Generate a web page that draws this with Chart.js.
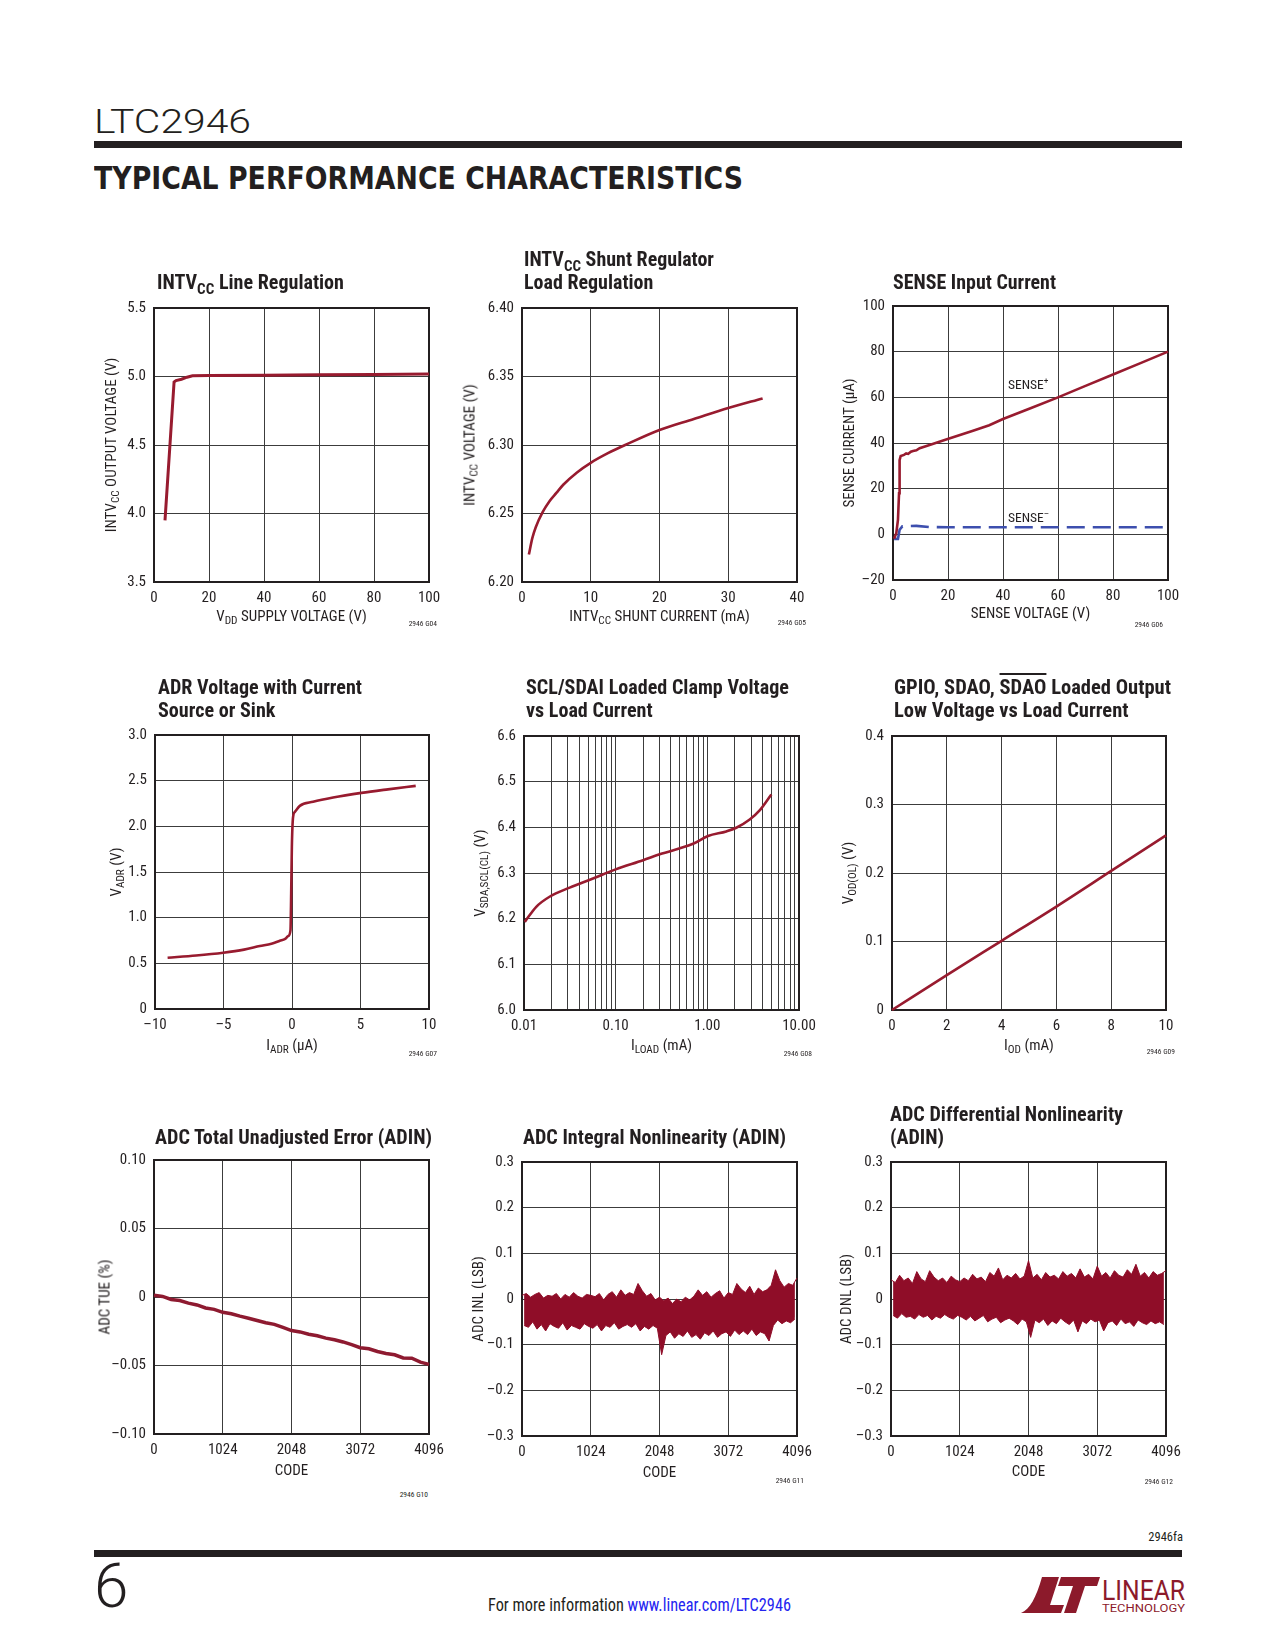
<!DOCTYPE html>
<html>
<head>
<meta charset="utf-8">
<script src="https://cdn.jsdelivr.net/npm/chart.js@4.4.1/dist/chart.umd.min.js"></script>
<style>
  html, body { margin: 0; padding: 0; background: #fff; }
  body { position: relative; width: 1275px; height: 1650px; overflow: hidden;
         font-family: 'Liberation Sans Narrow', 'Arial Narrow', 'Roboto Condensed', Roboto, sans-serif; color: #231f20; }
  canvas { position: absolute; }
  .t { position: absolute; white-space: nowrap; transform-origin: 0 0; }
  .ttl { font-weight: bold; font-size: 20px; line-height: 23px; }
  .ax { font-size: 15px; line-height: 15px; }
  .id { font-size: 7.5px; line-height: 7.5px; }
  .lbl { font-size: 13.5px; line-height: 13.5px; }
  sub { font-size: 0.75em; vertical-align: -0.3em; line-height: 0; }
  sup { font-size: 0.7em; vertical-align: 0.5em; line-height: 0; }
  .rule { position: absolute; background: #231f20; }
  .ovl { text-decoration: overline; }
</style>
</head>
<body>

<div class="t" id="part" style="left:94px;top:103.5px;font:300 34px/34px Roboto,sans-serif;">LTC2946</div>
<div class="rule" style="left:94px;top:141px;width:1088px;height:7px;"></div>
<div class="t" id="head" style="left:94px;top:163px;font:bold 31.5px/31.5px 'DejaVu Sans',sans-serif;">TYPICAL PERFORMANCE CHARACTERISTICS</div>

<div class="t" id="fa" style="left:1183px;top:1531px;font-size:12.5px;line-height:12.5px;transform:translateX(-100%);">2946fa</div>
<div class="rule" style="left:94px;top:1550px;width:1088px;height:7px;"></div>
<div class="t" style="left:94px;top:1555px;font:300 62px/62px Roboto,sans-serif;">6</div>
<div class="t" id="foot" style="left:488px;top:1597px;font-size:17.5px;line-height:17.5px;">For more information <span style="color:#2424f0">www.linear.com/LTC2946</span></div>

<svg style="position:absolute;left:1020px;top:1576px" width="166" height="38" viewBox="0 0 166 38">
  <path d="M22 1 H39 L30 29 H44 L41 37 H1 C10 33 16 22 22 1 Z" fill="#8c1a2b"/>
  <path d="M41 1 H80 L77 10 H65 L56 37 H44 L53 10 H38 Z" fill="#8c1a2b"/>
  <text x="82" y="24" font-family="'Liberation Sans Narrow', Roboto, sans-serif" font-size="28" fill="#8c1a2b" textLength="83" lengthAdjust="spacingAndGlyphs">LINEAR</text>
  <text x="82" y="36" font-family="'Liberation Sans Narrow', Roboto, sans-serif" font-size="10" fill="#8c1a2b" textLength="83" lengthAdjust="spacingAndGlyphs">TECHNOLOGY</text>
</svg>

<script>
// ---- data ----
// G04 INTVcc line regulation
var lineRegX = [4, 7.3, 8, 10, 12, 14, 20, 40, 60, 80, 100];
var lineRegY = [3.95, 4.96, 4.97, 4.98, 4.995, 5.005, 5.008, 5.01, 5.012, 5.015, 5.018];

// G05 shunt regulator load regulation
var shuntX = [1, 1.5, 2, 3, 4, 5, 6, 8, 10, 12.5, 15, 20, 25, 30, 35];
var shuntY = [6.220, 6.232, 6.240, 6.251, 6.259, 6.265, 6.271, 6.280, 6.287, 6.294, 6.300, 6.311, 6.319, 6.327, 6.334];

// G06 SENSE input current
var sensePlusX = [0.4, 1.2, 1.8, 2.2, 2.4, 2.8, 4, 4.8, 5.5, 6.5, 7.3, 8.5, 9.7, 13.3, 19.6, 29.1, 35, 40, 50, 60, 70, 80, 90, 100];
var sensePlusY = [-1.9, 0.5, 6.3, 18, 32.5, 34.3, 34.8, 35.4, 35.2, 36.2, 36.5, 36.8, 37.7, 39.1, 41.6, 45.4, 47.8, 50.5, 55.2, 60, 65, 70, 75, 80];
var senseMinusX = [0.4, 1.8, 2.4, 3.4, 8.5, 13.3, 20, 40, 60, 80, 100];
var senseMinusY = [-2, -2, 2, 3.5, 3.7, 3.2, 3.1, 3.1, 3.1, 3.1, 3.1];

// G07 ADR voltage
var adrX = [-9.08, -7, -5.02, -3.5, -2.35, -1.5, -0.89, -0.5, -0.28, -0.11, -0.06, -0.01, 0.08, 0.21, 0.57, 1.54, 3, 5.07, 7, 9.03];
var adrY = [0.561, 0.585, 0.616, 0.65, 0.689, 0.715, 0.747, 0.768, 0.798, 0.864, 1.265, 1.776, 2.104, 2.158, 2.224, 2.268, 2.315, 2.366, 2.405, 2.443];

// G08 SCL/SDAI clamp voltage (log x)
var clampX = [0.0102, 0.0136, 0.019, 0.0315, 0.0566, 0.1, 0.199, 0.302, 0.698, 1.017, 1.61, 2.07, 2.9, 3.72, 4.99];
var clampY = [6.193, 6.226, 6.248, 6.268, 6.288, 6.308, 6.328, 6.341, 6.364, 6.381, 6.391, 6.399, 6.417, 6.437, 6.472];

// G09 output low voltage
var odX = [0, 2, 4, 6, 8, 10];
var odY = [0, 0.051, 0.101, 0.151, 0.203, 0.255];

// G10 TUE, codes every 128
var tueY = [0.0012, 0.0004, -0.0018, -0.0026, -0.0045, -0.0058, -0.0080, -0.0090, -0.0112, -0.0122, -0.0140,
  -0.0155, -0.0172, -0.0188, -0.0200, -0.0222, -0.0245, -0.0255, -0.0272, -0.0283, -0.0300, -0.0312, -0.0328,
  -0.0348, -0.0370, -0.0378, -0.0398, -0.0412, -0.0422, -0.0445, -0.0447, -0.0475, -0.0492];

// G11 INL noise: peaks at codes 0,64,...,4096 and troughs at 32,96,...,4064
var inlHigh = [0.008, 0.012, 0.004, 0.010, 0.014, 0.002, 0.008, 0.006, 0.012, 0.000, 0.010, 0.004, 0.014, 0.006, 0.002, 0.010, 0.008,
  0.005, 0.012, -0.002, 0.010, 0.016, 0.004, 0.020, 0.008, 0.014, 0.010,
  0.034, 0.018, 0.006, 0.012, -0.002, 0.004,
  -0.004, 0.002, -0.010, 0.000, -0.006, 0.004, -0.002, 0.006,
  0.020, 0.008, 0.016, 0.004, 0.012, 0.018, 0.002, 0.014, 0.010,
  0.034, 0.022, 0.014, 0.028, 0.010, 0.024, 0.016, 0.020,
  0.030, 0.064, 0.040, 0.026, 0.034, 0.030, 0.046];
var inlLow = [-0.058, -0.062, -0.050, -0.066, -0.056, -0.070, -0.054, -0.060, -0.064, -0.052, -0.068, -0.058, -0.062, -0.066, -0.054, -0.060,
  -0.064, -0.056, -0.070, -0.058, -0.062, -0.052, -0.066, -0.060, -0.056,
  -0.062, -0.054, -0.070, -0.060, -0.066, -0.058, -0.064,
  -0.122,
  -0.080, -0.072, -0.086, -0.076, -0.082, -0.070, -0.084, -0.078,
  -0.088, -0.074, -0.080, -0.070, -0.084, -0.076, -0.072, -0.082, -0.068, -0.078,
  -0.070, -0.078, -0.066, -0.080, -0.072, -0.076, -0.092,
  -0.058, -0.046, -0.054, -0.048, -0.052, -0.044];

// G12 DNL noise, same code grid
var dnlHigh = [0.042, 0.036, 0.052, 0.040, 0.046, 0.034, 0.060, 0.044, 0.038, 0.062, 0.048, 0.040, 0.046, 0.036, 0.050, 0.042,
  0.038,
  0.046, 0.040, 0.054, 0.044, 0.048, 0.038, 0.058, 0.050, 0.068, 0.042, 0.052, 0.046, 0.056, 0.044, 0.050,
  0.084,
  0.046, 0.054, 0.042, 0.058, 0.048, 0.052, 0.044, 0.060, 0.050, 0.056, 0.046, 0.066, 0.048, 0.054, 0.044,
  0.072,
  0.050, 0.058, 0.046, 0.062, 0.052, 0.048, 0.064, 0.054, 0.076, 0.050, 0.058, 0.046, 0.060, 0.052, 0.056, 0.062];
var dnlLow = [-0.036, -0.042, -0.032, -0.040, -0.038, -0.044, -0.034, -0.040, -0.036, -0.046, -0.038, -0.042, -0.034, -0.040, -0.044, -0.036,
  -0.040, -0.046, -0.038, -0.048, -0.042, -0.036, -0.050, -0.044, -0.040, -0.052, -0.046, -0.042, -0.048, -0.056, -0.044, -0.050,
  -0.084,
  -0.046, -0.052, -0.044, -0.058, -0.048, -0.054, -0.042, -0.050, -0.056, -0.046, -0.072, -0.048, -0.054, -0.044, -0.050,
  -0.046, -0.070, -0.052, -0.048, -0.058, -0.044, -0.054, -0.050, -0.060, -0.046, -0.052, -0.056, -0.048, -0.054, -0.050, -0.056];

// ---- tick values and labels ----
var pct20Ticks = [0, 20, 40, 60, 80, 100];
var pct20Labels = ['0', '20', '40', '60', '80', '100'];
var lineRegYTicks = [3.5, 4, 4.5, 5, 5.5];
var lineRegYLabels = ['3.5', '4.0', '4.5', '5.0', '5.5'];
var shuntXTicks = [0, 10, 20, 30, 40];
var shuntXLabels = ['0', '10', '20', '30', '40'];
var shuntYTicks = [6.2, 6.25, 6.3, 6.35, 6.4];
var shuntYLabels = ['6.20', '6.25', '6.30', '6.35', '6.40'];
var senseYTicks = [-20, 0, 20, 40, 60, 80, 100];
var senseYLabels = ['\u201320', '0', '20', '40', '60', '80', '100'];
var adrXTicks = [-10, -5, 0, 5, 10];
var adrXLabels = ['\u201310', '\u20135', '0', '5', '10'];
var adrYTicks = [0, 0.5, 1, 1.5, 2, 2.5, 3];
var adrYLabels = ['0', '0.5', '1.0', '1.5', '2.0', '2.5', '3.0'];
var clampGrid = [0.01, 0.02, 0.03, 0.04, 0.05, 0.06, 0.07, 0.08, 0.09,
  0.1, 0.2, 0.3, 0.4, 0.5, 0.6, 0.7, 0.8, 0.9,
  1, 2, 3, 4, 5, 6, 7, 8, 9, 10];
var clampXTicks = [0.01, 0.1, 1, 10];
var clampXLabels = ['0.01', '0.10', '1.00', '10.00'];
var clampYTicks = [6.0, 6.1, 6.2, 6.3, 6.4, 6.5, 6.6];
var clampYLabels = ['6.0', '6.1', '6.2', '6.3', '6.4', '6.5', '6.6'];
var odXTicks = [0, 2, 4, 6, 8, 10];
var odXLabels = ['0', '2', '4', '6', '8', '10'];
var odYTicks = [0, 0.1, 0.2, 0.3, 0.4];
var odYLabels = ['0', '0.1', '0.2', '0.3', '0.4'];
var codeTicks = [0, 1024, 2048, 3072, 4096];
var codeLabels = ['0', '1024', '2048', '3072', '4096'];
var tueYTicks = [-0.1, -0.05, 0, 0.05, 0.1];
var tueYLabels = ['\u20130.10', '\u20130.05', '0', '0.05', '0.10'];
var lsbYTicks = [-0.3, -0.2, -0.1, 0, 0.1, 0.2, 0.3];
var lsbYLabels = ['\u20130.3', '\u20130.2', '\u20130.1', '0', '0.1', '0.2', '0.3'];

// ---- layout ----
var INK = '#231f20', GRID = '#3c3c3c', RED = '#981b2f', NOISE = '#8f0d28', BLUE = '#3d4fae';
var PAD_L = 70, PAD_T = 12, PAD_R = 30, PAD_B = 30;
var FONT = "'Liberation Sans Narrow', 'Arial Narrow', 'Roboto Condensed', Roboto, sans-serif";

Chart.defaults.font.family = FONT;
Chart.defaults.font.size = 15;
Chart.defaults.color = INK;

function zip(xs, ys) {
    return xs.map(function (x, i) { return { x: x, y: ys[i] }; });
}

function onGrid(vals, step, offset) {
    return vals.map(function (v, i) { return { x: i * step + offset, y: v }; });
}

function axis(vals, labels, isX, type) {
    return {
        type: type || 'linear',
        min: vals[0],
        max: vals[vals.length - 1],
        afterBuildTicks: function (s) { s.ticks = vals.map(function (v) { return { value: v }; }); },
        afterFit: function (s) { if (isX) s.height = PAD_B; else s.width = PAD_L; },
        grid: { color: GRID, lineWidth: 1, drawTicks: false },
        border: { display: false },
        ticks: {
            autoSkip: false, maxRotation: 0, minRotation: 0,
            padding: isX ? 7 : 8,
            callback: function (v, i) { return labels[i]; }
        }
    };
}

var frame = {
    id: 'frame',
    beforeDatasetsDraw: function (chart) {
        var a = chart.chartArea, c = chart.ctx;
        c.save();
        c.strokeStyle = INK;
        c.lineWidth = 2;
        c.strokeRect(a.left, a.top, a.right - a.left, a.bottom - a.top);
        c.restore();
    }
};

function line(data, extra) {
    return Object.assign({
        data: data, borderColor: RED, borderWidth: 2.6, pointRadius: 0,
        fill: false, tension: 0, clip: 4
    }, extra || {});
}

// noise band: upper envelope filled down to the lower envelope
function band(hi, lo, step) {
    return [
        line(onGrid(hi, step, 0), { borderColor: NOISE, borderWidth: 1, fill: '+1', backgroundColor: NOISE, clip: 1 }),
        line(onGrid(lo, step, step / 2), { borderColor: NOISE, borderWidth: 1, clip: 1 })
    ];
}

function build(c, datasets, xAxis, yAxis) {
    return new Chart(c.getContext('2d'), {
        type: 'line',
        data: { datasets: datasets },
        options: {
            responsive: false,
            maintainAspectRatio: false,
            animation: false,
            layout: { padding: { left: 0, top: PAD_T, right: PAD_R, bottom: 0 } },
            plugins: { legend: { display: false }, tooltip: { enabled: false } },
            scales: { x: xAxis, y: yAxis }
        },
        plugins: [frame]
    });
}

function addChart(box, datasets, xAxis, yAxis) {
    var c = document.createElement('canvas');
    document.body.appendChild(c);
    var w = box.w + PAD_L + PAD_R, h = box.h + PAD_T + PAD_B;
    c.width = w; c.height = h;
    var ch = build(c, datasets, xAxis, yAxis);
    var a = ch.chartArea;
    var dw = box.w - (a.right - a.left), dh = box.h - (a.bottom - a.top);
    if (Math.abs(dw) > 0.5 || Math.abs(dh) > 0.5) {
        ch.destroy();
        c.width = w + Math.round(dw); c.height = h + Math.round(dh);
        ch = build(c, datasets, xAxis, yAxis);
        a = ch.chartArea;
    }
    c.style.left = (box.x - a.left) + 'px';
    c.style.top = (box.y - a.top) + 'px';
    return ch;
}

function txt(html, x, y, cls, style) {
    var d = document.createElement('div');
    d.className = 't ' + cls;
    d.innerHTML = html;
    d.style.left = x + 'px';
    d.style.top = y + 'px';
    if (style) d.style.cssText += style;
    document.body.appendChild(d);
    return d;
}

function fit(el, w, pre) {
    var r = el.getBoundingClientRect().width;
    el.style.transform = (pre || '') + ' scaleX(' + (w / r) + ')';
}

var boxes = {
    g04: { x: 154, y: 308, w: 275, h: 274 },
    g05: { x: 522, y: 308, w: 275, h: 274 },
    g06: { x: 893, y: 306, w: 275, h: 274 },
    g07: { x: 155, y: 735, w: 274, h: 274 },
    g08: { x: 524, y: 736, w: 275, h: 274 },
    g09: { x: 892, y: 736, w: 274, h: 274 },
    g10: { x: 154, y: 1160, w: 275, h: 274 },
    g11: { x: 522, y: 1162, w: 275, h: 274 },
    g12: { x: 891, y: 1162, w: 275, h: 274 }
};

// ---- charts ----
addChart(boxes.g04, [line(zip(lineRegX, lineRegY), { borderWidth: 3 })],
    axis(pct20Ticks, pct20Labels, true), axis(lineRegYTicks, lineRegYLabels, false));

addChart(boxes.g05, [line(zip(shuntX, shuntY), { cubicInterpolationMode: 'monotone' })],
    axis(shuntXTicks, shuntXLabels, true), axis(shuntYTicks, shuntYLabels, false));

addChart(boxes.g06, [
    line(zip(sensePlusX, sensePlusY)),
    line(zip(senseMinusX, senseMinusY), { borderColor: BLUE, borderDash: [18, 8], borderWidth: 2.6 })
], axis(pct20Ticks, pct20Labels, true), axis(senseYTicks, senseYLabels, false));

addChart(boxes.g07, [line(zip(adrX, adrY), { cubicInterpolationMode: 'monotone' })],
    axis(adrXTicks, adrXLabels, true), axis(adrYTicks, adrYLabels, false));

var clampAxis = axis(clampGrid, [], true, 'logarithmic');
clampAxis.ticks.callback = function (v) {
    var k = clampXTicks.findIndex(function (t) { return Math.abs(t - v) / t < 1e-6; });
    return k >= 0 ? clampXLabels[k] : '';
};
addChart(boxes.g08, [line(zip(clampX, clampY), { cubicInterpolationMode: 'monotone' })],
    clampAxis, axis(clampYTicks, clampYLabels, false));

addChart(boxes.g09, [line(zip(odX, odY), { cubicInterpolationMode: 'monotone' })],
    axis(odXTicks, odXLabels, true), axis(odYTicks, odYLabels, false));

addChart(boxes.g10, [line(onGrid(tueY, 128, 0), { borderWidth: 3.5, borderColor: '#8e1a30' })],
    axis(codeTicks, codeLabels, true), axis(tueYTicks, tueYLabels, false));

addChart(boxes.g11, band(inlHigh, inlLow, 64),
    axis(codeTicks, codeLabels, true), axis(lsbYTicks, lsbYLabels, false));

addChart(boxes.g12, band(dnlHigh, dnlLow, 64),
    axis(codeTicks, codeLabels, true), axis(lsbYTicks, lsbYLabels, false));

// ---- titles ----
var titles = [
    ['INTV<sub>CC</sub> Line Regulation', 157, 275, 187],
    ['INTV<sub>CC</sub> Shunt Regulator<br>Load Regulation', 524, 252, 190],
    ['SENSE Input Current', 893, 275, 163],
    ['ADR Voltage with Current<br>Source or Sink', 158, 680, 204],
    ['SCL/SDAI Loaded Clamp Voltage<br>vs Load Current', 526, 680, 263],
    ['GPIO, SDAO, <span class="ovl">SDAO</span> Loaded Output<br>Low Voltage vs Load Current', 894, 680, 277],
    ['ADC Total Unadjusted Error (ADIN)', 155, 1130, 277],
    ['ADC Integral Nonlinearity (ADIN)', 523, 1130, 263],
    ['ADC Differential Nonlinearity<br>(ADIN)', 890, 1107, 233]
];
titles.forEach(function (t) { fit(txt(t[0], t[1], t[2] - 4, 'ttl'), t[3]); });

// ---- axis titles ----
var axisTitles = [
    ['g04', 'V<sub>DD</sub> SUPPLY VOLTAGE (V)', 'INTV<sub>CC</sub> OUTPUT VOLTAGE (V)', 43, 28.5],
    ['g05', 'INTV<sub>CC</sub> SHUNT CURRENT (mA)', 'INTV<sub>CC</sub> VOLTAGE (V)', 52, 29],
    ['g06', 'SENSE VOLTAGE (V)', 'SENSE CURRENT (\u00b5A)', 44, 28],
    ['g07', 'I<sub>ADR</sub> (\u00b5A)', 'V<sub>ADR</sub> (V)', 39, 31],
    ['g08', 'I<sub>LOAD</sub> (mA)', 'V<sub>SDA,SCL(CL)</sub> (V)', 44, 30],
    ['g09', 'I<sub>OD</sub> (mA)', 'V<sub>OD(OL)</sub> (V)', 44, 30],
    ['g10', 'CODE', 'ADC TUE (%)', 49, 31],
    ['g11', 'CODE', 'ADC INL (LSB)', 44, 30.5],
    ['g12', 'CODE', 'ADC DNL (LSB)', 45, 30]
];
axisTitles.forEach(function (a) {
    var b = boxes[a[0]];
    txt(a[1], b.x + b.w / 2, b.y + b.h + a[4] - 2, 'ax', 'transform:translateX(-50%);');
    txt(a[2], b.x - a[3], b.y + b.h / 2, 'ax', 'transform:rotate(-90deg) translate(-50%,-50%);');
});

// ---- figure ids ----
var ids = [
    ['2946 G04', 437, 621], ['2946 G05', 806, 620], ['2946 G06', 1163, 622],
    ['2946 G07', 437, 1051], ['2946 G08', 812, 1051], ['2946 G09', 1175, 1049],
    ['2946 G10', 428, 1492], ['2946 G11', 804, 1478], ['2946 G12', 1173, 1479]
];
ids.forEach(function (d) { txt(d[0], d[1], d[2] - 1, 'id', 'transform:translateX(-100%);'); });

// ---- curve labels ----
txt('SENSE<sup>+</sup>', 1008, 380 - 2, 'lbl');
txt('SENSE<sup>\u2013</sup>', 1008, 513 - 2, 'lbl');

// ---- page text fitting ----
fit(document.getElementById('part'), 157);
fit(document.getElementById('head'), 649);
fit(document.getElementById('foot'), 303);
</script>
</body>
</html>
